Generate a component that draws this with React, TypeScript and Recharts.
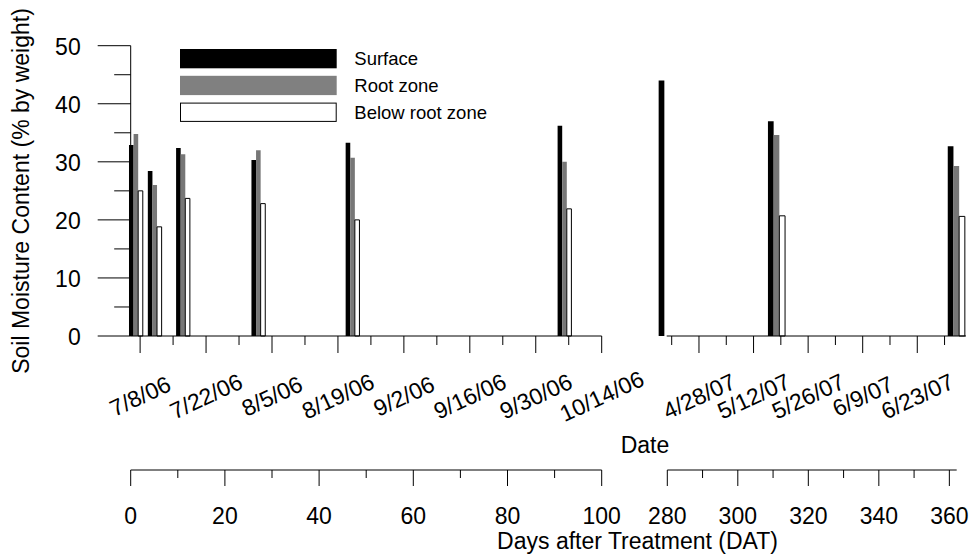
import React from "react";
import { BarChart, Bar, XAxis, YAxis, Legend } from "recharts";

const FONT = '"Liberation Sans", Arial, sans-serif';

// bar groups, x in days after treatment (DAT)
const leftDat = [1, 5, 11, 27, 47, 92];
const leftSurface = [32.9, 28.4, 32.4, 30.3, 33.3, 36.2];
const leftRoot = [34.8, 26.0, 31.3, 32.0, 30.7, 30.0];
const leftBelow = [25.0, 18.8, 23.7, 22.8, 20.0, 21.9];

const rightDat = [280, 311, 362];
const rightSurface = [44.0, 37.0, 32.7];
const rightRoot = [null, 34.6, 29.3];
const rightBelow = [null, 20.7, 20.6];

const seriesNames = ["Surface", "Root zone", "Below root zone"];

const yTicks = [0, 5, 10, 15, 20, 25, 30, 35, 40, 45, 50];

// date axis, in days since 7/6/06
const leftDateMajor = [2, 16, 30, 44, 58, 72, 86, 100];
const leftDateLabels = ["7/8/06", "7/22/06", "8/5/06", "8/19/06", "9/2/06", "9/16/06", "9/30/06", "10/14/06"];
const leftDateMinor = [9, 23, 37, 51, 65, 79, 93];
const rightDateMajor = [296, 310, 324, 338, 352];
const rightDateLabels = ["4/28/07", "5/12/07", "5/26/07", "6/9/07", "6/23/07"];
const rightDateMinor = [289, 303, 317, 331, 345, 359];

const leftDatTicks = [0, 10, 20, 30, 40, 50, 60, 70, 80, 90, 100];
const rightDatTicks = [280, 290, 300, 310, 320, 330, 340, 350, 360];

const W = 972;
const H = 556;
const TOP = 45.7;
const DATE_H = 134;
const DAT_H = 86;
const FS = 23;

const byNum = (a: number, b: number) => a - b;
const leftDateTicks = [...leftDateMajor, ...leftDateMinor].sort(byNum);
const rightDateTicks = [...rightDateMajor, ...rightDateMinor].sort(byNum);

function DateTick(props: any) {
  const { x, y, payload, majors, labels } = props;
  const i = majors.indexOf(payload.value);
  if (i < 0) return <line x1={x} y1={y} x2={x} y2={y + 9} stroke="#000" />;
  return (
    <g>
      <line x1={x} y1={y} x2={x} y2={y + 17} stroke="#000" />
      <text
        transform={`translate(${x},${y + 60}) rotate(-25)`}
        y={8.2}
        textAnchor="middle"
        fontSize={FS}
        fontFamily={FONT}
        fill="#000"
      >
        {labels[i]}
      </text>
    </g>
  );
}

function DatTick(props: any) {
  const { x, y, payload } = props;
  const major = payload.value % 20 === 0;
  return (
    <g>
      <line x1={x} y1={y} x2={x} y2={y + (major ? 16 : 8)} stroke="#000" />
      {major && (
        <text x={x} y={y + 54} textAnchor="middle" fontSize={FS} fontFamily={FONT} fill="#000">
          {payload.value}
        </text>
      )}
    </g>
  );
}

function YTick(props: any) {
  const { x, y, payload } = props;
  const major = payload.value % 10 === 0;
  return (
    <g>
      <line x1={x - (major ? 33 : 16.5)} y1={y} x2={x} y2={y} stroke="#000" />
      {major && (
        <text x={x - 50} y={y + 9.2} textAnchor="end" fontSize={FS} fontFamily={FONT} fill="#000">
          {payload.value}
        </text>
      )}
    </g>
  );
}

function LegendBox(props: any) {
  const items = [...(props.payload || [])].sort(
    (a: any, b: any) => seriesNames.indexOf(a.value) - seriesNames.indexOf(b.value)
  );
  return (
    <svg width={330} height={76} style={{ display: "block" }}>
      {items.map((it: any, i: number) => {
        const top = i * 26.8;
        const white = it.color === "#fff";
        return (
          <g key={it.value}>
            <rect
              x={white ? 0.5 : 0}
              y={top + (white ? 0.5 : 0)}
              width={white ? 155.7 : 156.7}
              height={white ? 18.3 : 19.3}
              fill={it.color === "#777" ? "#808080" : it.color}
              stroke={white ? "#000" : "none"}
            />
            <text x={174.3} y={top + 9.7 + 6.6} fontSize={18.5} fontFamily={FONT} fill="#000">
              {it.value}
            </text>
          </g>
        );
      })}
    </svg>
  );
}

const axisLine = { stroke: "#000", strokeWidth: 1 };

export default function App() {
  const leftRows = leftDat.map((d, i) => ({
    dat: d,
    surface: leftSurface[i],
    root: leftRoot[i],
    below: leftBelow[i],
  }));
  const rightRows = rightDat.map((d, i) => ({
    dat: d,
    surface: rightSurface[i],
    root: rightRoot[i],
    below: rightBelow[i],
  }));

  return (
    <div style={{ position: "absolute", left: 0, top: 0, width: W, height: H, background: "#fff", fontFamily: FONT }}>
      <div style={{ position: "absolute", left: 0, top: 0 }}>
        <BarChart
          width={W}
          height={H}
          data={leftRows}
          margin={{ top: TOP, right: W - 601.7, bottom: 0, left: 0 }}
          barGap={0}
          barSize={4.6}
        >
          <XAxis
            xAxisId="a"
            type="number"
            dataKey="dat"
            domain={[0, 100]}
            ticks={leftDateTicks}
            interval={0}
            tickSize={0}
            tickMargin={0}
            tickLine={false}
            axisLine={axisLine}
            height={DATE_H}
            tick={(p: any) => <DateTick {...p} majors={leftDateMajor} labels={leftDateLabels} />}
          />
          <XAxis
            xAxisId="b"
            type="number"
            dataKey="dat"
            domain={[0, 100]}
            ticks={leftDatTicks}
            interval={0}
            tickSize={0}
            tickMargin={0}
            tickLine={false}
            axisLine={axisLine}
            height={DAT_H}
            tick={(p: any) => <DatTick {...p} />}
          />
          <YAxis
            type="number"
            domain={[0, 50]}
            ticks={yTicks}
            interval={0}
            width={130.7}
            tickSize={0}
            tickMargin={0}
            tickLine={false}
            axisLine={axisLine}
            tick={(p: any) => <YTick {...p} />}
          />
          <Legend
            layout="horizontal"
            verticalAlign="middle"
            align="center"
            content={(p: any) => <LegendBox {...p} />}
            wrapperStyle={{ left: 180, top: 49, width: 330, height: 76 }}
          />
          <Bar xAxisId="b" dataKey="surface" name="Surface" fill="#000" isAnimationActive={false} />
          <Bar xAxisId="b" dataKey="root" name="Root zone" fill="#777" isAnimationActive={false} />
          <Bar xAxisId="b" dataKey="below" name="Below root zone" fill="#fff" stroke="#000" strokeWidth={1} isAnimationActive={false} />
        </BarChart>
      </div>

      <div style={{ position: "absolute", left: 0, top: 0 }}>
        <BarChart
          width={W}
          height={H}
          data={rightRows}
          margin={{ top: TOP, right: 2, bottom: 0, left: 655 }}
          barGap={0}
          barSize={5.7}
        >
          <XAxis
            xAxisId="a"
            type="number"
            dataKey="dat"
            domain={[288, 364]}
            allowDataOverflow
            padding={{ left: 12.8, right: 5.95 }}
            ticks={rightDateTicks}
            interval={0}
            tickSize={0}
            tickMargin={0}
            tickLine={false}
            axisLine={{ ...axisLine, strokeDasharray: "0 11.7 299.3 1000" }}
            height={DATE_H}
            tick={(p: any) => <DateTick {...p} majors={rightDateMajor} labels={rightDateLabels} />}
          />
          <XAxis
            xAxisId="b"
            type="number"
            dataKey="dat"
            domain={[280, 362]}
            padding={{ left: 12.3, right: 13.6 }}
            ticks={rightDatTicks}
            interval={0}
            tickSize={0}
            tickMargin={0}
            tickLine={false}
            axisLine={{ ...axisLine, strokeDasharray: "0 12.3 289.4 1000" }}
            height={DAT_H}
            tick={(p: any) => <DatTick {...p} />}
          />
          <YAxis type="number" domain={[0, 50]} hide />
          <Bar xAxisId="b" dataKey="surface" fill="#000" isAnimationActive={false} />
          <Bar xAxisId="b" dataKey="root" fill="#777" isAnimationActive={false} />
          <Bar xAxisId="b" dataKey="below" fill="#fff" stroke="#000" strokeWidth={1} isAnimationActive={false} />
        </BarChart>
      </div>

      <svg width={W} height={H} style={{ position: "absolute", left: 0, top: 0, pointerEvents: "none" }}>
        <text transform="translate(28.5,191) rotate(-90)" textAnchor="middle" fontSize={FS} fontFamily={FONT} fill="#000">
          Soil Moisture Content (% by weight)
        </text>
        <text x={645} y={453.2} textAnchor="middle" fontSize={FS} fontFamily={FONT} fill="#000">
          Date
        </text>
        <text x={637.5} y={549} textAnchor="middle" fontSize={FS} fontFamily={FONT} fill="#000">
          Days after Treatment (DAT)
        </text>
      </svg>
    </div>
  );
}
